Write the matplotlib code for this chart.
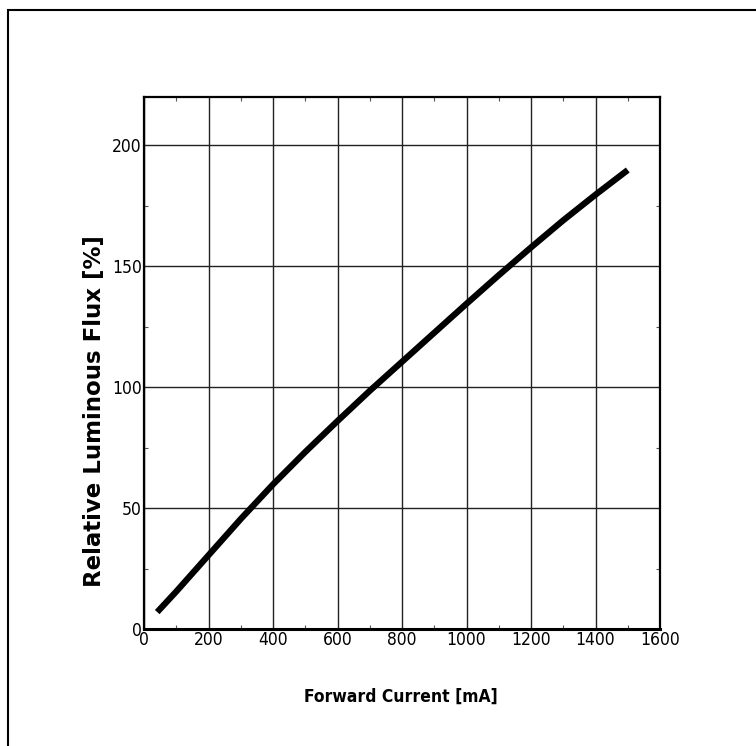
import matplotlib
matplotlib.use("Agg")
import matplotlib.pyplot as plt
from matplotlib import font_manager
from matplotlib.patches import Rectangle
from matplotlib.ticker import MultipleLocator

# curva
current_ma = [41, 100, 200, 300, 400, 500, 600, 700, 800, 900, 1000,
              1100, 1200, 1300, 1400, 1500]
flux_pct = [7, 15.5, 30.5, 45.5, 59.8, 73.2, 86, 98.5, 110.5, 122.5, 134.5,
            146.3, 157.8, 169, 179.6, 189.8]

x_ticks = [0, 200, 400, 600, 800, 1000, 1200, 1400, 1600]
y_ticks = [0, 50, 100, 150, 200]

# fuente angosta si existe (tipo Arial Narrow)
names = {f.name for f in font_manager.fontManager.ttflist}
condensed = [f.name for f in font_manager.fontManager.ttflist
             if f.stretch in ("condensed", "semi-condensed")]
if "Liberation Sans Narrow" in names:
    narrow, stretch = ["Liberation Sans Narrow"], "normal"
elif condensed:
    narrow, stretch = [condensed[0]], "condensed"
else:
    narrow, stretch = ["Liberation Sans"], "normal"
wide = ["DejaVu Sans"]

fig = plt.figure(figsize=(7.56, 7.46), dpi=100)
ax = fig.add_axes([144 / 756, 1 - 629 / 746, 516 / 756, 532 / 746])

ax.plot(current_ma, flux_pct, color="black", linewidth=4.5,
        solid_capstyle="butt", solid_joinstyle="round", zorder=3)

ax.set_xlim(0, 1600)
ax.set_ylim(0, 220)
ax.set_xticks(x_ticks)
ax.set_yticks(y_ticks)
ax.xaxis.set_minor_locator(MultipleLocator(100))
ax.yaxis.set_minor_locator(MultipleLocator(25))
ax.grid(True, which="major", color="#222222", linewidth=1.0)
ax.tick_params(which="major", length=0, pad=1.5, labelsize=12.5)
ax.tick_params(which="minor", direction="in", length=3, width=0.8,
               top=True, right=True, colors="#555555")
for lab in ax.get_xticklabels() + ax.get_yticklabels():
    lab.set_family(narrow)
    lab.set_fontstretch(stretch)
for sp in ax.spines.values():
    sp.set_linewidth(1.6)
ax.spines["bottom"].set_linewidth(2.2)

fig.text(401 / 756, 1 - 697 / 746, "Forward Current [mA]", ha="center",
         va="center", fontsize=12.5, fontweight="bold", family=narrow,
         fontstretch=stretch)
fig.text(95 / 756, 1 - 411 / 746, "Relative Luminous Flux [%]", ha="center",
         va="center", rotation=90, fontsize=16.5, fontweight="bold", family=wide)

# marco exterior (cortado a la derecha y abajo)
fig.patches.append(Rectangle((8 / 756, -0.05), 1.0, 1 - 10 / 746 + 0.05,
                             transform=fig.transFigure, fill=False,
                             edgecolor="black", linewidth=1.5))

fig.savefig("out.png", dpi=100)
